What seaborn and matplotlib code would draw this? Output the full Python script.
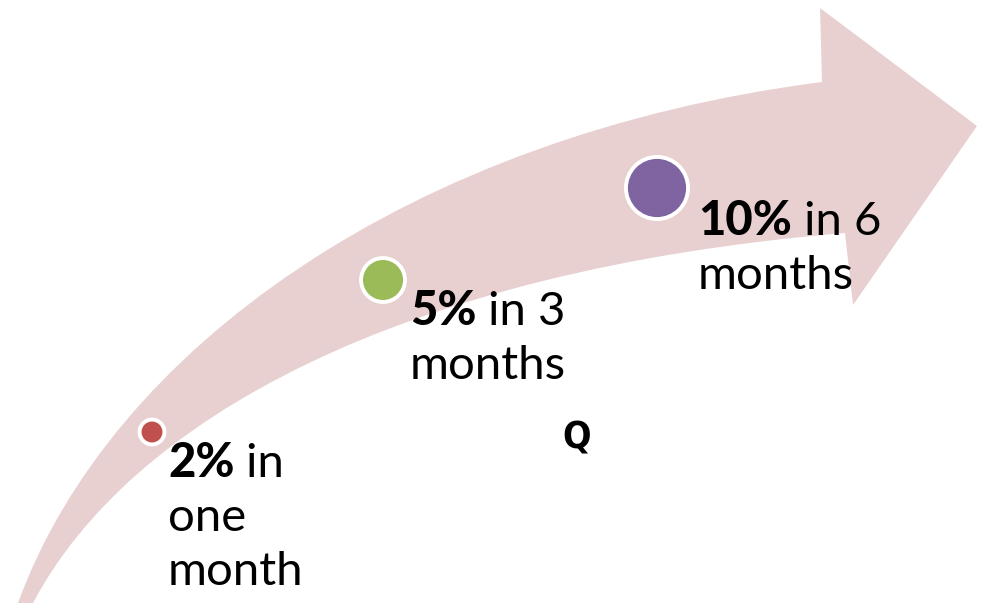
import matplotlib
matplotlib.use("Agg")
import matplotlib.pyplot as plt
from matplotlib.path import Path
from matplotlib.patches import PathPatch
import seaborn as sns
import pandas as pd

# ---- data ----
percents = ["2%", "5%", "10%"]
periods = [" in\none\nmonth", " in 3\nmonths", " in 6\nmonths"]
growth = [2, 5, 10]
colors = ["#C0504D", "#9BBB59", "#8064A2"]
stage_x = [152, 383, 657]
stage_y = [432, 280, 188]

sns.set_theme(style="white")
plt.rcParams['font.family'] = ['Lato', 'DejaVu Sans']

W, H = 985, 603
fig = plt.figure(figsize=(W / 100, H / 100), dpi=100)
ax = fig.add_axes([0, 0, 1, 1])
ax.set_xlim(0, W)
ax.set_ylim(H, 0)
ax.axis("off")

# curved arrow
verts = [(18, 603), (110, 350), (410, 135), (822, 82),
         (820, 8), (977, 126), (853, 305), (845, 233),
         (400, 270), (130, 420), (33, 603), (18, 603)]
codes = [Path.MOVETO, Path.CURVE4, Path.CURVE4, Path.CURVE4,
         Path.LINETO, Path.LINETO, Path.LINETO, Path.LINETO,
         Path.CURVE4, Path.CURVE4, Path.CURVE4, Path.CLOSEPOLY]
ax.add_patch(PathPatch(Path(verts, codes), facecolor="#E8D0D1", edgecolor="none", zorder=1))

df = pd.DataFrame({"x": stage_x, "y": stage_y, "growth": growth, "label": percents})
sns.scatterplot(data=df, x="x", y="y", hue="label", palette=dict(zip(percents, colors)),
                size="growth", sizes={2: 320, 5: 1000, 10: 2000}, edgecolor="white",
                linewidth=2.8, legend=False, ax=ax, zorder=3)
ax.set_xlabel("")
ax.set_ylabel("")

# labels
fs = 34
line_step = 54
text_pos = [(168, 477), (410, 325), (698, 235)]
fig.canvas.draw()
renderer = fig.canvas.get_renderer()
inv = ax.transData.inverted()
for (tx, ty), pct, per in zip(text_pos, percents, periods):
    t = ax.text(tx, ty, pct, fontsize=fs, fontweight="black", color="black",
                va="baseline", ha="left", zorder=4)
    bb = t.get_window_extent(renderer=renderer)
    x_end = inv.transform((bb.x1, bb.y0))[0]
    lines = per.split("\n")
    ax.text(x_end, ty, lines[0], fontsize=fs, color="black", va="baseline", ha="left", zorder=4)
    for i, ln in enumerate(lines[1:], start=1):
        ax.text(tx, ty + i * line_step, ln, fontsize=fs, color="black",
                va="baseline", ha="left", zorder=4)

ax.text(577, 449, "Q", fontsize=27, fontweight="heavy", fontstretch="condensed",
        family=["Liberation Sans Narrow", "DejaVu Sans"], ha="center", va="baseline",
        color="black", zorder=4)

fig.savefig("out.png", dpi=100)
